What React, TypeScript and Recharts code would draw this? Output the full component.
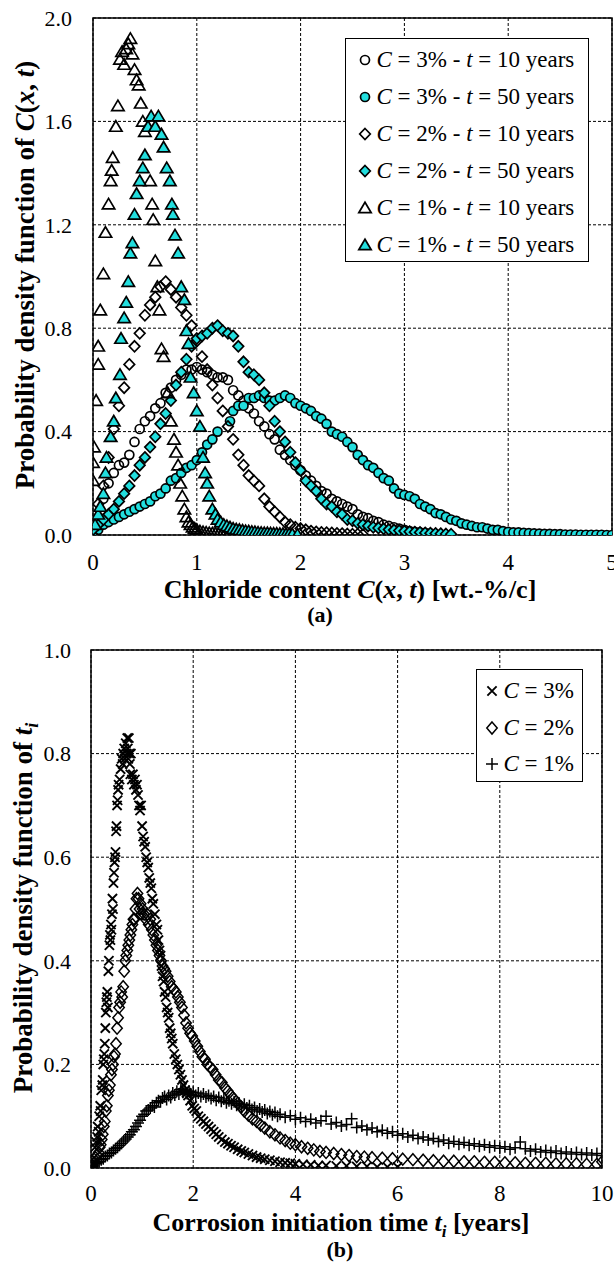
import React from "react";
import {
  CartesianGrid,
  Legend,
  ReferenceArea,
  Scatter,
  ScatterChart,
  XAxis,
  YAxis,
} from "recharts";

type Pt = [number, number];

const FONT = "'Liberation Serif', 'Times New Roman', Times, serif";
const CYAN = "#22dede";

// ---- (a) chloride content ----
const chlorideTicks = [0, 1, 2, 3, 4, 5];
const pdfTicksA = [0, 0.4, 0.8, 1.2, 1.6, 2.0];

const c3t10: Pt[] = [
  [0.0, 0.0], [0.05, 0.06], [0.1, 0.14], [0.15, 0.2], [0.2, 0.24], [0.25, 0.27],
  [0.3, 0.28], [0.35, 0.31], [0.4, 0.36], [0.45, 0.41], [0.5, 0.44], [0.55, 0.46],
  [0.6, 0.49], [0.65, 0.51], [0.7, 0.55], [0.75, 0.57], [0.8, 0.6], [0.85, 0.62],
  [0.9, 0.64], [0.95, 0.64], [1.0, 0.65], [1.05, 0.64], [1.1, 0.63], [1.15, 0.62],
  [1.2, 0.61], [1.25, 0.61], [1.3, 0.6], [1.35, 0.56], [1.4, 0.54], [1.45, 0.52],
  [1.5, 0.49], [1.55, 0.47], [1.6, 0.44], [1.65, 0.42], [1.7, 0.39], [1.75, 0.37],
  [1.8, 0.33], [1.85, 0.31], [1.9, 0.29], [1.95, 0.27], [2.0, 0.25], [2.05, 0.23],
  [2.1, 0.21], [2.15, 0.19], [2.2, 0.17], [2.25, 0.16], [2.3, 0.14], [2.35, 0.13],
  [2.4, 0.12], [2.45, 0.11], [2.5, 0.1], [2.55, 0.08], [2.6, 0.07], [2.65, 0.065],
  [2.7, 0.055], [2.75, 0.05], [2.8, 0.04], [2.85, 0.035], [2.9, 0.03], [2.95, 0.025],
  [3.0, 0.02], [3.05, 0.015], [3.1, 0.012], [3.15, 0.01], [3.2, 0.008], [3.25, 0.006],
];

const c3t50: Pt[] = [
  [0.0, 0.0], [0.05, 0.02], [0.1, 0.04], [0.15, 0.05], [0.2, 0.06], [0.25, 0.07],
  [0.3, 0.08], [0.35, 0.09], [0.4, 0.1], [0.45, 0.11], [0.5, 0.12], [0.55, 0.13],
  [0.6, 0.15], [0.65, 0.16], [0.7, 0.18], [0.75, 0.21], [0.8, 0.22], [0.85, 0.24],
  [0.9, 0.26], [0.95, 0.27], [1.0, 0.29], [1.05, 0.32], [1.1, 0.35], [1.15, 0.37],
  [1.2, 0.4], [1.32, 0.44], [1.35, 0.48], [1.4, 0.5], [1.45, 0.5], [1.5, 0.53],
  [1.55, 0.53], [1.6, 0.54], [1.65, 0.53], [1.7, 0.52], [1.75, 0.52], [1.8, 0.53],
  [1.85, 0.54], [1.9, 0.53], [1.95, 0.51], [2.0, 0.5], [2.05, 0.49], [2.1, 0.48],
  [2.15, 0.46], [2.2, 0.45], [2.25, 0.43], [2.3, 0.4], [2.35, 0.39], [2.4, 0.38],
  [2.45, 0.36], [2.5, 0.34], [2.55, 0.31], [2.6, 0.29], [2.65, 0.27], [2.7, 0.26],
  [2.75, 0.24], [2.8, 0.22], [2.85, 0.21], [2.9, 0.18], [2.95, 0.16], [3.0, 0.155],
  [3.05, 0.15], [3.1, 0.14], [3.15, 0.12], [3.2, 0.11], [3.25, 0.1], [3.3, 0.085],
  [3.35, 0.08], [3.4, 0.07], [3.45, 0.06], [3.5, 0.055], [3.55, 0.045], [3.6, 0.04],
  [3.65, 0.035], [3.7, 0.03], [3.75, 0.03], [3.8, 0.025], [3.85, 0.02], [3.9, 0.02],
  [3.95, 0.015], [4.0, 0.012], [4.05, 0.01], [4.1, 0.01], [4.15, 0.008], [4.2, 0.007],
  [4.25, 0.006], [4.3, 0.005], [4.35, 0.004], [4.4, 0.004], [4.45, 0.003], [4.5, 0.003],
  [4.55, 0.002], [4.6, 0.002], [4.65, 0.002], [4.7, 0.001], [4.75, 0.001], [4.8, 0.001],
  [4.85, 0.001], [4.9, 0.001], [4.95, 0.0], [5.0, 0.0],
];

const c2t10: Pt[] = [
  [0.0, 0.0], [0.05, 0.12], [0.1, 0.19], [0.15, 0.3], [0.2, 0.41], [0.25, 0.5],
  [0.3, 0.57], [0.35, 0.66], [0.4, 0.73], [0.45, 0.78], [0.5, 0.85], [0.55, 0.89],
  [0.6, 0.92], [0.65, 0.96], [0.7, 0.98], [0.75, 0.95], [0.8, 0.92], [0.85, 0.88],
  [0.9, 0.85], [0.95, 0.81], [1.0, 0.75], [1.05, 0.69], [1.1, 0.64], [1.15, 0.58],
  [1.2, 0.53], [1.25, 0.48], [1.3, 0.42], [1.35, 0.37], [1.4, 0.31], [1.45, 0.27],
  [1.5, 0.23], [1.55, 0.21], [1.6, 0.19], [1.65, 0.14], [1.7, 0.11], [1.75, 0.09],
  [1.8, 0.07], [1.85, 0.05], [1.9, 0.04], [1.95, 0.03], [2.0, 0.025], [2.05, 0.02],
  [2.1, 0.015], [2.15, 0.012], [2.2, 0.01], [2.25, 0.009], [2.3, 0.008], [2.35, 0.006],
  [2.4, 0.005], [2.45, 0.004], [2.5, 0.003], [2.55, 0.003], [2.6, 0.002],
];

const c2t50: Pt[] = [
  [0.0, 0.02], [0.05, 0.04], [0.1, 0.06], [0.15, 0.08], [0.2, 0.1], [0.25, 0.13],
  [0.3, 0.16], [0.35, 0.19], [0.4, 0.23], [0.45, 0.27], [0.5, 0.3], [0.55, 0.34],
  [0.6, 0.38], [0.65, 0.43], [0.7, 0.47], [0.75, 0.52], [0.8, 0.58], [0.85, 0.63],
  [0.9, 0.68], [0.95, 0.73], [1.0, 0.76], [1.05, 0.77], [1.1, 0.78], [1.15, 0.8],
  [1.2, 0.81], [1.25, 0.79], [1.3, 0.78], [1.35, 0.77], [1.4, 0.73], [1.45, 0.67],
  [1.5, 0.63], [1.55, 0.62], [1.6, 0.6], [1.65, 0.55], [1.7, 0.5], [1.75, 0.44],
  [1.8, 0.4], [1.85, 0.36], [1.9, 0.32], [1.95, 0.28], [2.0, 0.25], [2.05, 0.21],
  [2.1, 0.19], [2.15, 0.17], [2.2, 0.14], [2.25, 0.12], [2.3, 0.11], [2.35, 0.09],
  [2.4, 0.08], [2.45, 0.06], [2.5, 0.055], [2.55, 0.045], [2.6, 0.04], [2.65, 0.035],
  [2.7, 0.03], [2.75, 0.027], [2.8, 0.024], [2.85, 0.021], [2.9, 0.019], [2.95, 0.017],
  [3.0, 0.015], [3.05, 0.013], [3.1, 0.011], [3.15, 0.01], [3.2, 0.008], [3.25, 0.007],
  [3.3, 0.006], [3.35, 0.005], [3.4, 0.004], [3.45, 0.003],
];

const c1t10: Pt[] = [
  [0.0, 0.21], [0.0, 0.28], [0.01, 0.34], [0.03, 0.52], [0.05, 0.66], [0.05, 0.73],
  [0.07, 0.87], [0.1, 1.01], [0.12, 1.17], [0.15, 1.28], [0.17, 1.37], [0.18, 1.41],
  [0.19, 1.46], [0.22, 1.58], [0.24, 1.66], [0.26, 1.84], [0.28, 1.87], [0.3, 1.82],
  [0.32, 1.88], [0.34, 1.9], [0.36, 1.92], [0.38, 1.86], [0.4, 1.8], [0.42, 1.76],
  [0.44, 1.74], [0.46, 1.67], [0.48, 1.6], [0.5, 1.56], [0.55, 1.37], [0.57, 1.28],
  [0.58, 1.22], [0.6, 1.06], [0.62, 0.96], [0.64, 0.87], [0.66, 0.72], [0.68, 0.69],
  [0.72, 0.55], [0.75, 0.44], [0.78, 0.37], [0.8, 0.32], [0.82, 0.27], [0.84, 0.2],
  [0.86, 0.15], [0.88, 0.1], [0.9, 0.07], [0.92, 0.05], [0.94, 0.04], [0.96, 0.03],
  [0.98, 0.025], [1.0, 0.02], [1.03, 0.015], [1.06, 0.012], [1.09, 0.01], [1.12, 0.008],
  [1.15, 0.007], [1.18, 0.006], [1.21, 0.005], [1.24, 0.004], [1.27, 0.004], [1.3, 0.003],
  [1.34, 0.003], [1.38, 0.002], [1.42, 0.002], [1.46, 0.001], [1.5, 0.001],
];

const c1t50: Pt[] = [
  [0.02, 0.04], [0.05, 0.08], [0.07, 0.11], [0.1, 0.16], [0.12, 0.24], [0.13, 0.3],
  [0.17, 0.38], [0.2, 0.44], [0.22, 0.53], [0.26, 0.62], [0.27, 0.76], [0.3, 0.84],
  [0.32, 0.9], [0.34, 0.98], [0.36, 1.09], [0.38, 1.13], [0.4, 1.24], [0.42, 1.32],
  [0.45, 1.37], [0.48, 1.42], [0.5, 1.47], [0.53, 1.58], [0.56, 1.62], [0.6, 1.58],
  [0.63, 1.62], [0.66, 1.55], [0.68, 1.5], [0.71, 1.42], [0.74, 1.37], [0.76, 1.28],
  [0.77, 1.24], [0.79, 1.16], [0.82, 1.09], [0.85, 0.96], [0.88, 0.91], [0.9, 0.79],
  [0.92, 0.74], [0.94, 0.61], [0.97, 0.55], [1.0, 0.48], [1.03, 0.42], [1.06, 0.3],
  [1.08, 0.24], [1.1, 0.2], [1.12, 0.15], [1.15, 0.1], [1.18, 0.08], [1.2, 0.06],
  [1.23, 0.05], [1.26, 0.04], [1.29, 0.035], [1.32, 0.03], [1.35, 0.025], [1.38, 0.022],
  [1.41, 0.02], [1.44, 0.018], [1.47, 0.016], [1.5, 0.015], [1.53, 0.013], [1.56, 0.012],
  [1.59, 0.01], [1.62, 0.009], [1.65, 0.008], [1.68, 0.008], [1.71, 0.007], [1.74, 0.006],
  [1.77, 0.006], [1.8, 0.005], [1.83, 0.005], [1.86, 0.004], [1.89, 0.004], [1.92, 0.003],
  [1.97, 0.002],
];

// ---- (b) corrosion initiation time ----
const timeTicks = [0, 2, 4, 6, 8, 10];
const pdfTicksB = [0, 0.2, 0.4, 0.6, 0.8, 1.0];

const ti3: Pt[] = [
  [0.0, 0.0], [0.02, 0.005], [0.04, 0.01], [0.06, 0.02], [0.08, 0.04], [0.1, 0.05],
  [0.12, 0.06], [0.13, 0.08], [0.15, 0.07], [0.16, 0.1], [0.18, 0.12], [0.19, 0.11],
  [0.2, 0.15], [0.22, 0.16], [0.23, 0.17], [0.24, 0.2], [0.25, 0.21], [0.26, 0.22],
  [0.27, 0.24], [0.28, 0.27], [0.29, 0.3], [0.3, 0.32], [0.31, 0.33], [0.32, 0.34],
  [0.33, 0.31], [0.34, 0.38], [0.35, 0.4], [0.36, 0.43], [0.37, 0.45], [0.38, 0.44],
  [0.39, 0.47], [0.4, 0.46], [0.41, 0.49], [0.42, 0.52], [0.43, 0.5], [0.44, 0.55],
  [0.45, 0.57], [0.46, 0.59], [0.47, 0.6], [0.48, 0.61], [0.49, 0.65], [0.5, 0.66],
  [0.51, 0.7], [0.52, 0.71], [0.53, 0.73], [0.54, 0.74], [0.56, 0.75], [0.58, 0.77],
  [0.6, 0.79], [0.62, 0.78], [0.63, 0.8], [0.65, 0.81], [0.66, 0.79], [0.68, 0.82],
  [0.7, 0.8], [0.71, 0.83], [0.72, 0.81], [0.73, 0.79], [0.74, 0.83], [0.75, 0.8],
  [0.76, 0.78], [0.77, 0.76], [0.78, 0.8], [0.8, 0.75], [0.82, 0.76], [0.84, 0.74],
  [0.86, 0.75], [0.88, 0.73], [0.9, 0.74], [0.92, 0.72], [0.94, 0.7], [0.96, 0.69],
  [0.98, 0.7], [1.0, 0.66], [1.02, 0.64], [1.04, 0.63], [1.06, 0.62], [1.08, 0.6],
  [1.1, 0.59], [1.12, 0.58], [1.14, 0.56], [1.16, 0.55], [1.18, 0.54], [1.2, 0.52],
  [1.22, 0.51], [1.25, 0.49], [1.28, 0.47], [1.3, 0.46], [1.32, 0.44], [1.34, 0.42],
  [1.36, 0.41], [1.38, 0.39], [1.4, 0.37], [1.42, 0.36], [1.44, 0.34], [1.46, 0.33],
  [1.48, 0.31], [1.5, 0.3], [1.52, 0.29], [1.54, 0.27], [1.56, 0.26], [1.58, 0.25],
  [1.6, 0.24], [1.63, 0.22], [1.66, 0.21], [1.69, 0.2], [1.72, 0.19], [1.75, 0.18],
  [1.78, 0.17], [1.81, 0.16], [1.84, 0.15], [1.87, 0.145], [1.9, 0.14], [1.94, 0.13],
  [1.98, 0.12], [2.02, 0.115], [2.06, 0.11], [2.1, 0.1], [2.15, 0.095], [2.2, 0.09],
  [2.25, 0.085], [2.3, 0.08], [2.35, 0.075], [2.4, 0.07], [2.45, 0.065], [2.5, 0.06],
  [2.56, 0.055], [2.62, 0.05], [2.68, 0.047], [2.74, 0.043], [2.8, 0.04], [2.87, 0.036],
  [2.94, 0.033], [3.0, 0.03], [3.08, 0.027], [3.16, 0.024], [3.24, 0.021], [3.32, 0.019],
  [3.4, 0.017], [3.5, 0.015], [3.6, 0.013], [3.7, 0.011], [3.8, 0.01], [3.9, 0.009],
  [4.0, 0.008], [4.15, 0.007], [4.3, 0.006], [4.45, 0.005], [4.6, 0.005], [4.8, 0.004],
  [5.0, 0.004], [5.2, 0.003], [5.4, 0.003], [5.6, 0.002], [5.8, 0.002], [6.0, 0.002],
];

const ti2: Pt[] = [
  [0.0, 0.0], [0.03, 0.005], [0.06, 0.01], [0.09, 0.02], [0.12, 0.025], [0.15, 0.03],
  [0.17, 0.04], [0.19, 0.045], [0.21, 0.055], [0.23, 0.065], [0.25, 0.08], [0.27, 0.09],
  [0.29, 0.11], [0.31, 0.12], [0.33, 0.14], [0.35, 0.15], [0.37, 0.16], [0.39, 0.18],
  [0.41, 0.19], [0.43, 0.2], [0.45, 0.215], [0.47, 0.22], [0.49, 0.24], [0.51, 0.27],
  [0.53, 0.29], [0.55, 0.31], [0.57, 0.32], [0.59, 0.34], [0.61, 0.33], [0.63, 0.35],
  [0.65, 0.38], [0.67, 0.4], [0.69, 0.41], [0.71, 0.42], [0.73, 0.43], [0.75, 0.44],
  [0.77, 0.45], [0.79, 0.46], [0.81, 0.47], [0.83, 0.48], [0.85, 0.48], [0.87, 0.5],
  [0.89, 0.52], [0.91, 0.53], [0.93, 0.52], [0.95, 0.5], [0.97, 0.51], [0.99, 0.49],
  [1.01, 0.5], [1.04, 0.49], [1.07, 0.48], [1.1, 0.49], [1.13, 0.47], [1.16, 0.48],
  [1.19, 0.46], [1.22, 0.45], [1.25, 0.44], [1.28, 0.43], [1.31, 0.42], [1.34, 0.41],
  [1.37, 0.4], [1.4, 0.39], [1.43, 0.385], [1.46, 0.38], [1.5, 0.37], [1.54, 0.36],
  [1.58, 0.35], [1.62, 0.345], [1.66, 0.34], [1.7, 0.33], [1.74, 0.32], [1.78, 0.31],
  [1.82, 0.295], [1.86, 0.28], [1.9, 0.27], [1.94, 0.26], [1.98, 0.255], [2.03, 0.245],
  [2.08, 0.235], [2.13, 0.225], [2.18, 0.215], [2.23, 0.21], [2.28, 0.2], [2.33, 0.195],
  [2.38, 0.19], [2.44, 0.18], [2.5, 0.17], [2.56, 0.165], [2.62, 0.155], [2.68, 0.148],
  [2.74, 0.14], [2.8, 0.133], [2.87, 0.125], [2.94, 0.118], [3.0, 0.11], [3.08, 0.102],
  [3.16, 0.095], [3.24, 0.09], [3.32, 0.083], [3.4, 0.077], [3.5, 0.07], [3.6, 0.064],
  [3.7, 0.058], [3.8, 0.053], [3.9, 0.048], [4.0, 0.045], [4.12, 0.041], [4.24, 0.038],
  [4.36, 0.035], [4.48, 0.032], [4.6, 0.03], [4.75, 0.028], [4.9, 0.026], [5.05, 0.024],
  [5.2, 0.022], [5.35, 0.021], [5.5, 0.02], [5.7, 0.019], [5.9, 0.018], [6.1, 0.017],
  [6.3, 0.016], [6.5, 0.015], [6.7, 0.014], [6.9, 0.013], [7.1, 0.013], [7.3, 0.012],
  [7.5, 0.012], [7.7, 0.011], [7.9, 0.011], [8.1, 0.01], [8.3, 0.01], [8.5, 0.009],
  [8.7, 0.009], [8.9, 0.009], [9.1, 0.008], [9.3, 0.008], [9.5, 0.008], [9.7, 0.007],
  [9.9, 0.007], [10.0, 0.012],
];

const ti1: Pt[] = [
  [0.0, 0.0], [0.04, 0.004], [0.08, 0.008], [0.12, 0.01], [0.16, 0.012], [0.2, 0.016],
  [0.24, 0.018], [0.28, 0.022], [0.32, 0.024], [0.36, 0.028], [0.4, 0.03], [0.44, 0.034],
  [0.48, 0.037], [0.52, 0.04], [0.56, 0.044], [0.6, 0.048], [0.64, 0.052], [0.68, 0.056],
  [0.72, 0.06], [0.76, 0.064], [0.8, 0.07], [0.84, 0.074], [0.88, 0.08], [0.92, 0.087],
  [0.96, 0.092], [1.0, 0.1], [1.04, 0.104], [1.08, 0.11], [1.12, 0.112], [1.16, 0.116],
  [1.2, 0.12], [1.24, 0.118], [1.28, 0.126], [1.32, 0.13], [1.36, 0.128], [1.4, 0.135],
  [1.44, 0.138], [1.48, 0.132], [1.52, 0.14], [1.56, 0.136], [1.6, 0.145], [1.64, 0.141],
  [1.68, 0.148], [1.72, 0.143], [1.76, 0.152], [1.8, 0.146], [1.84, 0.15], [1.88, 0.144],
  [1.92, 0.148], [1.96, 0.142], [2.0, 0.146], [2.05, 0.14], [2.1, 0.145], [2.15, 0.138],
  [2.2, 0.143], [2.25, 0.137], [2.3, 0.14], [2.35, 0.134], [2.4, 0.138], [2.45, 0.131],
  [2.5, 0.136], [2.55, 0.129], [2.6, 0.133], [2.65, 0.126], [2.7, 0.13], [2.75, 0.124],
  [2.8, 0.128], [2.85, 0.121], [2.9, 0.125], [2.95, 0.118], [3.0, 0.123], [3.05, 0.116],
  [3.1, 0.12], [3.15, 0.113], [3.2, 0.117], [3.25, 0.11], [3.3, 0.114], [3.35, 0.108],
  [3.4, 0.112], [3.45, 0.105], [3.5, 0.109], [3.55, 0.103], [3.6, 0.107], [3.65, 0.1],
  [3.7, 0.104], [3.8, 0.098], [3.9, 0.101], [4.0, 0.094], [4.1, 0.097], [4.2, 0.09],
  [4.3, 0.094], [4.4, 0.087], [4.5, 0.091], [4.6, 0.1], [4.7, 0.085], [4.8, 0.088],
  [4.9, 0.081], [5.0, 0.084], [5.1, 0.095], [5.2, 0.078], [5.3, 0.081], [5.4, 0.074],
  [5.5, 0.077], [5.6, 0.07], [5.7, 0.073], [5.8, 0.067], [5.9, 0.07], [6.0, 0.063],
  [6.1, 0.066], [6.2, 0.06], [6.3, 0.063], [6.4, 0.057], [6.5, 0.06], [6.6, 0.054],
  [6.7, 0.057], [6.8, 0.051], [6.9, 0.054], [7.0, 0.048], [7.1, 0.051], [7.2, 0.046],
  [7.3, 0.049], [7.4, 0.044], [7.5, 0.047], [7.6, 0.042], [7.7, 0.045], [7.8, 0.04],
  [7.9, 0.043], [8.0, 0.038], [8.1, 0.041], [8.2, 0.036], [8.3, 0.039], [8.4, 0.05],
  [8.5, 0.037], [8.6, 0.033], [8.7, 0.036], [8.8, 0.031], [8.9, 0.034], [9.0, 0.03],
  [9.1, 0.033], [9.2, 0.028], [9.3, 0.031], [9.4, 0.027], [9.5, 0.03], [9.6, 0.026],
  [9.7, 0.029], [9.8, 0.025], [9.9, 0.028], [10.0, 0.024],
];

const toXY = (pts: Pt[]) => pts.map(([x, y]) => ({ x, y }));

type ShapeProps = { cx?: number; cy?: number };

const circle = (fill: string) => ({ cx = 0, cy = 0 }: ShapeProps) => (
  <circle cx={cx} cy={cy} r={4.5} fill={fill} stroke="#000" strokeWidth={1.7} />
);
const diamond = (fill: string) => ({ cx = 0, cy = 0 }: ShapeProps) => (
  <path
    d={`M${cx},${cy - 5.5}L${cx + 5.3},${cy}L${cx},${cy + 5.5}L${cx - 5.3},${cy}Z`}
    fill={fill}
    stroke="#000"
    strokeWidth={1.7}
  />
);
const triangle = (fill: string) => ({ cx = 0, cy = 0 }: ShapeProps) => (
  <path
    d={`M${cx},${cy - 5.8}L${cx + 6.2},${cy + 4.7}L${cx - 6.2},${cy + 4.7}Z`}
    fill={fill}
    stroke="#000"
    strokeWidth={1.7}
  />
);
const xMark = ({ cx = 0, cy = 0 }: ShapeProps) => (
  <path
    d={`M${cx - 4.6},${cy - 4.6}L${cx + 4.6},${cy + 4.6}M${cx + 4.6},${cy - 4.6}L${cx - 4.6},${cy + 4.6}`}
    stroke="#000"
    strokeWidth={1.9}
    fill="none"
  />
);
const plusMark = ({ cx = 0, cy = 0 }: ShapeProps) => (
  <path
    d={`M${cx - 6},${cy}L${cx + 6},${cy}M${cx},${cy - 6}L${cx},${cy + 6}`}
    stroke="#000"
    strokeWidth={1.5}
    fill="none"
  />
);
const openDiamondB = ({ cx = 0, cy = 0 }: ShapeProps) => (
  <path
    d={`M${cx},${cy - 6}L${cx + 5.2},${cy}L${cx},${cy + 6}L${cx - 5.2},${cy}Z`}
    fill="none"
    stroke="#000"
    strokeWidth={1.5}
  />
);

const seriesA = [
  { key: "c3t10", data: c3t10, shape: circle("none"), c: "3%", t: "10" },
  { key: "c3t50", data: c3t50, shape: circle(CYAN), c: "3%", t: "50" },
  { key: "c2t10", data: c2t10, shape: diamond("none"), c: "2%", t: "10" },
  { key: "c2t50", data: c2t50, shape: diamond(CYAN), c: "2%", t: "50" },
  { key: "c1t10", data: c1t10, shape: triangle("none"), c: "1%", t: "10" },
  { key: "c1t50", data: c1t50, shape: triangle(CYAN), c: "1%", t: "50" },
];

const seriesB = [
  { key: "ti3", data: ti3, shape: xMark, c: "3%" },
  { key: "ti2", data: ti2, shape: openDiamondB, c: "2%" },
  { key: "ti1", data: ti1, shape: plusMark, c: "1%" },
];

const yTickStyle = { fontFamily: FONT, fontSize: 22, fill: "#000" };
const xTickStyle = { fontFamily: FONT, fontSize: 23, fill: "#000" };
const titleStyle = { fontFamily: FONT, fontSize: 26, fontWeight: 700, fill: "#000" } as const;
const yTitleStyle = { fontFamily: FONT, fontSize: 27, fontWeight: 700, fill: "#000" } as const;
const panelStyle = { fontFamily: FONT, fontSize: 22, fontWeight: 700, fill: "#000" } as const;

function LegendA() {
  return (
    <div
      style={{
        boxSizing: "border-box",
        width: 244,
        height: 224,
        border: "1.5px solid #000",
        background: "#fff",
        paddingTop: 2,
        fontFamily: FONT,
        fontSize: 23,
        color: "#000",
      }}
    >
      {seriesA.map((s) => (
        <div key={s.key} style={{ height: 37, display: "flex", alignItems: "center", whiteSpace: "nowrap" }}>
          <svg width={16} height={16} style={{ marginLeft: 10.5, marginRight: 4, overflow: "visible" }}>
            {s.shape({ cx: 8, cy: 8 })}
          </svg>
          <span>
            <i>C</i> = {s.c} - <i>t</i> = {s.t} years
          </span>
        </div>
      ))}
    </div>
  );
}

function LegendB() {
  return (
    <div
      style={{
        boxSizing: "border-box",
        width: 107,
        height: 113,
        border: "1.5px solid #000",
        background: "#fff",
        paddingTop: 3,
        fontFamily: FONT,
        fontSize: 23,
        color: "#000",
      }}
    >
      {seriesB.map((s) => (
        <div key={s.key} style={{ height: 36.5, display: "flex", alignItems: "center", whiteSpace: "nowrap" }}>
          <svg width={16} height={16} style={{ marginLeft: 6.5, marginRight: 4, overflow: "visible" }}>
            {s.shape({ cx: 8, cy: 8 })}
          </svg>
          <span>
            <i>C</i> = {s.c}
          </span>
        </div>
      ))}
    </div>
  );
}

// axis titles, placed in the chart's own pixel frame
const xTitleA = () => (
  <g>
    <text x={350} y={598} textAnchor="middle" {...titleStyle}>
      Chloride content <tspan fontStyle="italic">C</tspan>(<tspan fontStyle="italic">x</tspan>,{" "}
      <tspan fontStyle="italic">t</tspan>) [wt.-%/c]
    </text>
    <text x={320} y={622} textAnchor="middle" {...panelStyle}>
      (a)
    </text>
  </g>
);

const yTitleA = () => (
  <text x={25} y={275} dy="0.35em" textAnchor="middle" transform="rotate(-90 25 275)" {...yTitleStyle}>
    Probability density function of <tspan fontStyle="italic">C</tspan>(<tspan fontStyle="italic">x</tspan>,{" "}
    <tspan fontStyle="italic">t</tspan>)
  </text>
);

const xTitleB = () => (
  <g>
    <text x={341} y={601} textAnchor="middle" {...titleStyle}>
      Corrosion initiation time <tspan fontStyle="italic">t</tspan>
      <tspan fontStyle="italic" fontSize={17} dy={6}>
        i
      </tspan>
      <tspan dy={-6}> [years]</tspan>
    </text>
    <text x={340} y={627} textAnchor="middle" {...panelStyle}>
      (b)
    </text>
  </g>
);

const yTitleB = () => (
  <text x={23} y={278} dy="0.35em" textAnchor="middle" transform="rotate(-90 23 278)" {...yTitleStyle}>
    Probability density function of <tspan fontStyle="italic">t</tspan>
    <tspan fontStyle="italic" fontSize={18} dy={6}>
      i
    </tspan>
  </text>
);

export default function App() {
  return (
    <div
      style={{
        position: "absolute",
        left: 0,
        top: 0,
        width: 614,
        height: 1263,
        background: "#fff",
        fontFamily: FONT,
      }}
    >
      <div style={{ position: "absolute", left: 0, top: 0 }}>
        <ScatterChart width={614} height={630} margin={{ top: 18, right: 2, bottom: 0, left: 0 }}>
          <CartesianGrid stroke="#000" strokeDasharray="3 2" strokeWidth={1} />
          <XAxis
            type="number"
            dataKey="x"
            domain={[0, 5]}
            ticks={chlorideTicks}
            interval={0}
            height={95}
            tickLine={false}
            axisLine={false}
            tickSize={0}
            tickMargin={19}
            tick={xTickStyle}
            allowDataOverflow
            label={xTitleA}
          />
          <YAxis
            type="number"
            dataKey="y"
            domain={[0, 2]}
            ticks={pdfTicksA}
            interval={0}
            width={93}
            tickLine={false}
            axisLine={false}
            tickSize={0}
            tickMargin={21}
            tick={yTickStyle}
            tickFormatter={(v: number) => v.toFixed(1)}
            allowDataOverflow
            label={yTitleA}
          />
          <ReferenceArea x1={0} x2={5} y1={0} y2={2} fill="none" stroke="#000" strokeWidth={1.5} ifOverflow="visible" />
          {seriesA.map((s) => (
            <Scatter key={s.key} name={s.key} data={toXY(s.data)} shape={s.shape} isAnimationActive={false} />
          ))}
          <Legend
            layout="horizontal"
            verticalAlign="middle"
            align="center"
            wrapperStyle={{ left: 345, top: 38, width: 244, height: 224 }}
            content={() => <LegendA />}
          />
        </ScatterChart>
      </div>
      <div style={{ position: "absolute", left: 0, top: 630 }}>
        <ScatterChart width={614} height={633} margin={{ top: 20, right: 12, bottom: 0, left: 0 }}>
          <CartesianGrid stroke="#000" strokeDasharray="3 2" strokeWidth={1} />
          <XAxis
            type="number"
            dataKey="x"
            domain={[0, 10]}
            ticks={timeTicks}
            interval={0}
            height={95}
            tickLine={false}
            axisLine={false}
            tickSize={0}
            tickMargin={17}
            tick={xTickStyle}
            allowDataOverflow
            label={xTitleB}
          />
          <YAxis
            type="number"
            dataKey="y"
            domain={[0, 1]}
            ticks={pdfTicksB}
            interval={0}
            width={91}
            tickLine={false}
            axisLine={false}
            tickSize={0}
            tickMargin={20}
            tick={yTickStyle}
            tickFormatter={(v: number) => v.toFixed(1)}
            allowDataOverflow
            label={yTitleB}
          />
          <ReferenceArea x1={0} x2={10} y1={0} y2={1} fill="none" stroke="#000" strokeWidth={1.5} ifOverflow="visible" />
          {seriesB.map((s) => (
            <Scatter key={s.key} name={s.key} data={toXY(s.data)} shape={s.shape} isAnimationActive={false} />
          ))}
          <Legend
            layout="horizontal"
            verticalAlign="middle"
            align="center"
            wrapperStyle={{ left: 476, top: 39, width: 107, height: 113 }}
            content={() => <LegendB />}
          />
        </ScatterChart>
      </div>
    </div>
  );
}
